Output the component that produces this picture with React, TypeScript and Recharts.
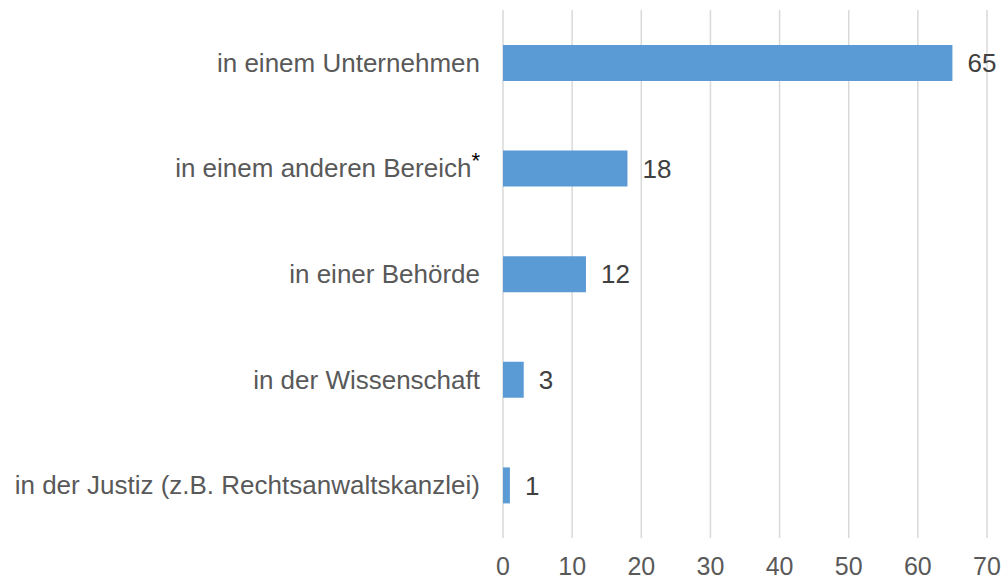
import React from "react";
import {
  BarChart,
  Bar,
  XAxis,
  YAxis,
  CartesianGrid,
  LabelList,
} from "recharts";

const categories = [
  "in einem Unternehmen",
  "in einem anderen Bereich",
  "in einer Behörde",
  "in der Wissenschaft",
  "in der Justiz (z.B. Rechtsanwaltskanzlei)",
];
const values = [65, 18, 12, 3, 1];
const footnoted = ["in einem anderen Bereich"];
const xTicks = [0, 10, 20, 30, 40, 50, 60, 70];

const data = categories.map((name, i) => ({ name, value: values[i] }));

const FONT = "'Liberation Sans', Arial, sans-serif";

// category label, with a superscript asterisk where a footnote applies
function CategoryTick(props: any) {
  const { x, y, payload } = props;
  const star = footnoted.includes(payload.value);
  return (
    <text
      x={x - 15}
      y={y}
      dy={9}
      textAnchor="end"
      fontFamily={FONT}
      fontSize={26}
      fill="#595959"
    >
      {payload.value}
      {star && (
        <tspan fill="#000" fontSize={22} dy={-9}>
          *
        </tspan>
      )}
    </text>
  );
}

export default function App() {
  return (
    <div style={{ position: "absolute", left: 0, top: 0, background: "#fff" }}>
      <BarChart
        width={1005}
        height={579}
        data={data}
        layout="vertical"
        margin={{ top: 10, right: 18, bottom: 0, left: 0 }}
      >
        <CartesianGrid horizontal={false} stroke="#d9d9d9" strokeWidth={1.5} />
        <XAxis
          type="number"
          domain={[0, 70]}
          ticks={xTicks}
          axisLine={false}
          tickLine={false}
          height={41}
          tickMargin={13}
          tick={{ fontFamily: FONT, fontSize: 25, fill: "#595959" }}
        />
        <YAxis
          type="category"
          dataKey="name"
          width={503}
          axisLine={false}
          tickLine={false}
          tick={<CategoryTick />}
          interval={0}
        />
        <Bar dataKey="value" fill="#5b9bd5" barSize={36} isAnimationActive={false}>
          <LabelList
            dataKey="value"
            position="right"
            offset={15}
            style={{ fontFamily: FONT, fontSize: 26, fill: "#404040" }}
          />
        </Bar>
      </BarChart>
    </div>
  );
}
